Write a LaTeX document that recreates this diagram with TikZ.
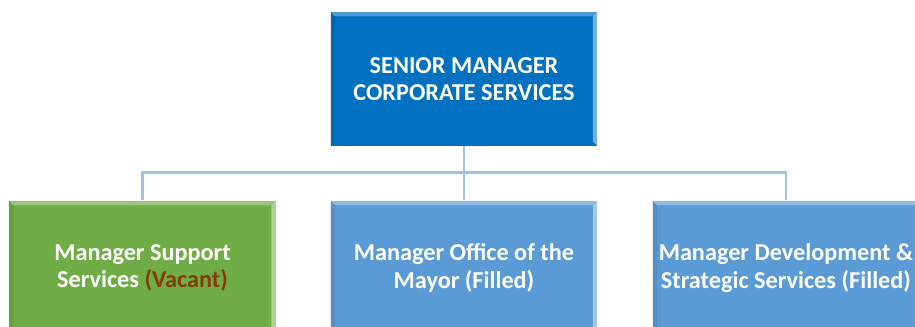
\documentclass[tikz,border=0pt]{standalone}
\usepackage{fontspec}
\setmainfont{Carlito}

\definecolor{seniorblue}{RGB}{0,112,192}
\definecolor{staffblue}{RGB}{91,155,213}
\definecolor{vacantgreen}{RGB}{112,173,71}
\definecolor{vacantred}{RGB}{132,60,12}
\definecolor{linkblue}{RGB}{157,195,230}

\tikzset{every picture/.style={line width=0.75pt}}
\tikzset{
  post/.style={draw=none, align=center, text=white, inner sep=0pt,
    font=\bfseries\fontsize{18.2}{20.5}\selectfont,
    minimum width=200pt, minimum height=100.5pt},
  link/.style={draw=linkblue, line width=1.8pt}
}

% light top and right edge, darker left edge
\newcommand{\bevel}[1]{%
  \fill[white,opacity=.3] (#1.north west) -- (#1.north east) -- ([shift={(-5,5)}]#1.north east) -- ([shift={(5,5)}]#1.north west) -- cycle;
  \fill[white,opacity=.45] (#1.north east) -- (#1.south east) -- ([shift={(-5,-5)}]#1.south east) -- ([shift={(-5,5)}]#1.north east) -- cycle;
  \fill[black,opacity=.08] (#1.north west) -- (#1.south west) -- ([shift={(5,-5)}]#1.south west) -- ([shift={(5,5)}]#1.north west) -- cycle;
}

\begin{document}
\begin{tikzpicture}[x=0.75pt,y=0.75pt,yscale=-1,xscale=1]
  \clip (0,0) rectangle (915,327);

  %Shape: Rectangle [senior]
  \node[post, fill=seniorblue] (senior) at (464,79) {SENIOR MANAGER\\CORPORATE SERVICES};
  %Shape: Rectangle [support]
  \node[post, fill=vacantgreen] (support) at (142.5,268) {Manager Support\\Services \textcolor{vacantred}{(Vacant)}};
  %Shape: Rectangle [mayor]
  \node[post, fill=staffblue] (mayor) at (464,268) {Manager Office of the\\Mayor (Filled)};
  %Shape: Rectangle [devel]
  \node[post, fill=staffblue] (devel) at (786,268) {Manager Development \&\\Strategic Services (Filled)};

  \bevel{senior}
  \bevel{support}
  \bevel{mayor}
  \bevel{devel}

  %Straight Lines
  \draw[link] (senior.south) -- ++(0,26) coordinate (bus) -| (support.north);
  \draw[link] (bus) -- (mayor.north);
  \draw[link] (bus) -| (devel.north);
\end{tikzpicture}
\end{document}
